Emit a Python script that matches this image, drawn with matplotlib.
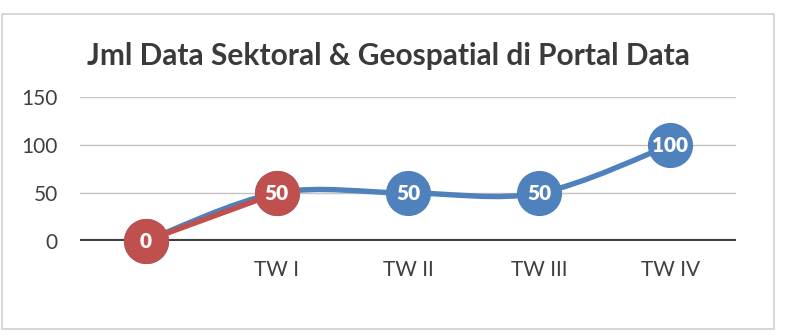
import matplotlib
matplotlib.use("Agg")
import matplotlib.pyplot as plt
from matplotlib.path import Path
from matplotlib.patches import PathPatch, Rectangle

plt.rcParams['font.family'] = ['Lato', 'DejaVu Sans']

title = "Jml Data Sektoral & Geospatial di Portal Data"
categories = ["", "TW I", "TW II", "TW III", "TW IV"]
target_values = [0, 50, 50, 50, 100]      # blue series (smoothed)
start_values = [0, 50]                     # red series
y_ticks = [0, 50, 100, 150]

BLUE = "#4F81BD"
RED = "#C0504D"
TEXT = "#404040"

W, H = 788, 336
fig = plt.figure(figsize=(W / 100, H / 100), dpi=100)
fig.patch.set_facecolor("white")

# chart frame
fig.add_artist(Rectangle((2 / W, 1 - 329 / H), 772 / W, 315 / H,
                         transform=fig.transFigure, fill=False,
                         edgecolor="#d0d0d0", linewidth=1.2))

ax = fig.add_axes([80 / W, 1 - 241 / H, 656 / W, 144 / H])
ax.set_xlim(-0.5, len(categories) - 0.5)
ax.set_ylim(0, 150)
for s in ax.spines.values():
    s.set_visible(False)

# gridlines and zero axis
for v in y_ticks[1:]:
    ax.axhline(v, color="#c4c4c4", linewidth=1.0, zorder=1)
ax.axhline(0, color=TEXT, linewidth=3.0, zorder=2)

ax.set_yticks(y_ticks)
ax.set_yticklabels([str(v) for v in y_ticks], fontsize=15, color=TEXT)
ax.set_xticks(range(len(categories)))
ax.set_xticklabels(categories, fontsize=15, color=TEXT)
ax.tick_params(axis="both", length=0)
ax.tick_params(axis="y", pad=16)
ax.tick_params(axis="x", pad=14)


def smooth_path(xs, ys):
    """Cubic Bezier through the points, spreadsheet-style smoothing."""
    pts = list(zip(xs, ys))
    n = len(pts)
    verts = [pts[0]]
    codes = [Path.MOVETO]
    for i in range(n - 1):
        p0 = pts[i - 1] if i > 0 else pts[i]
        p1 = pts[i]
        p2 = pts[i + 1]
        p3 = pts[i + 2] if i + 2 < n else pts[i + 1]
        c1 = (p1[0] + (p2[0] - p0[0]) / 6, p1[1] + (p2[1] - p0[1]) / 6)
        c2 = (p2[0] - (p3[0] - p1[0]) / 6, p2[1] - (p3[1] - p1[1]) / 6)
        verts += [c1, c2, p2]
        codes += [Path.CURVE4] * 3
    return Path(verts, codes)


bx = list(range(len(target_values)))
ax.add_patch(PathPatch(smooth_path(bx, target_values), facecolor="none",
                       edgecolor=BLUE, linewidth=3.9, capstyle="round",
                       zorder=3, clip_on=False))
ax.plot(bx, target_values, linestyle="none", marker="o", markersize=31.5,
        color=BLUE, zorder=4, clip_on=False)

rx = list(range(len(start_values)))
ax.plot(rx, start_values, color=RED, linewidth=3.9, marker="o",
        markersize=31.5, solid_capstyle="round", zorder=5, clip_on=False)

for x, v in zip(bx, target_values):
    if x < len(start_values):
        continue
    ax.text(x, v, str(v), ha="center", va="center", color="white",
            fontsize=15, fontweight="heavy", zorder=6)
for x, v in zip(rx, start_values):
    ax.text(x, v, str(v), ha="center", va="center", color="white",
            fontsize=15, fontweight="heavy", zorder=6)

fig.text(388 / W, 1 - 56 / H, title, ha="center", va="center",
         fontsize=21.5, fontweight="bold", color="#3a3a3a")

fig.savefig("out.png", dpi=100)
